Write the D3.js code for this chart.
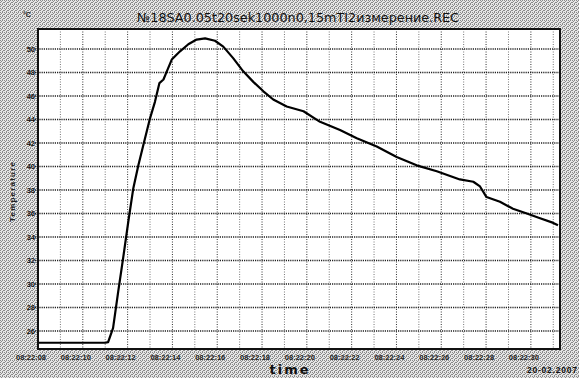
<!DOCTYPE html>
<html>
<head>
<meta charset="utf-8">
<script src="https://cdn.jsdelivr.net/npm/d3@7"></script>
<style>
  html, body { margin: 0; padding: 0; background: #fff; }
  svg { display: block; }
</style>
</head>
<body>
<div id="chart"></div>
<script>
// seconds after 08:22:08 and measured temperature (°C)
const secs = [0, 3.0, 3.13, 3.35, 3.58, 3.8, 4.03, 4.25, 4.48, 4.7, 5.0, 5.22, 5.42, 5.6, 5.75, 5.97,
  6.34, 6.71, 7.08, 7.46, 7.9, 8.27, 8.72, 9.16, 9.61, 10.06, 10.5, 11.1, 11.85, 12.59, 13.48,
  14.23, 15.12, 16.01, 16.9, 17.8, 18.83, 19.43, 19.73, 20.02, 20.62, 21.2, 21.82, 22.41, 23.0, 23.21];
const temps = [25.0, 25.0, 25.05, 26.25, 29.35, 32.2, 35.3, 38.1, 40.1, 41.8, 44.1, 45.5, 47.1, 47.4, 48.1, 49.1,
  49.8, 50.4, 50.8, 50.9, 50.7, 50.2, 49.2, 48.1, 47.2, 46.4, 45.7, 45.1, 44.7, 43.8, 43.1,
  42.4, 41.7, 40.8, 40.1, 39.6, 38.9, 38.7, 38.3, 37.4, 37.0, 36.4, 36.0, 35.6, 35.2, 35.0];

const xTickSecs = [0, 2, 4, 6, 8, 10, 12, 14, 16, 18, 20, 22];
const xTickLabels = ['08:22:08', '08:22:10', '08:22:12', '08:22:14', '08:22:16', '08:22:18',
  '08:22:20', '08:22:22', '08:22:24', '08:22:26', '08:22:28', '08:22:30'];
const yTicks = [26, 28, 30, 32, 34, 36, 38, 40, 42, 44, 46, 48, 50];

const title = '№18SA0.05t20sek1000n0,15mTI2измерение.REC';

const W = 579, H = 378;
const margin = { top: 29, right: 19, bottom: 29, left: 38 };

const svg = d3.select('#chart').append('svg')
  .attr('width', W)
  .attr('height', H);

// dithered grey backdrop like the scanned original
const defs = svg.append('defs');
const pat = defs.append('pattern')
  .attr('id', 'dither')
  .attr('width', 4).attr('height', 4)
  .attr('patternUnits', 'userSpaceOnUse');
pat.append('rect').attr('width', 4).attr('height', 4).attr('fill', '#e6e6e6');
[[0, 0], [2, 0], [1, 1], [3, 2], [0, 2], [2, 3]].forEach(p => {
  pat.append('rect').attr('x', p[0]).attr('y', p[1]).attr('width', 1).attr('height', 1).attr('fill', '#8a8a8a');
});

svg.append('rect').attr('width', W).attr('height', H).attr('fill', 'url(#dither)');

const x = d3.scaleLinear()
  .domain([0, 23.3])
  .range([margin.left, W - margin.right]);

const y = d3.scaleLinear()
  .domain([24.47, 51.7])
  .range([H - margin.bottom, margin.top]);

// plot area
svg.append('rect')
  .attr('x', x(0))
  .attr('y', y(51.7))
  .attr('width', x(23.3) - x(0))
  .attr('height', y(24.47) - y(51.7))
  .attr('fill', '#fff');

// vertical grid, one per second
svg.append('g')
  .selectAll('line')
  .data(d3.range(1, 24))
  .enter().append('line')
  .attr('x1', d => x(d)).attr('x2', d => x(d))
  .attr('y1', y(51.7)).attr('y2', y(24.47))
  .attr('stroke', d => d % 2 === 0 ? '#333' : '#777')
  .attr('stroke-width', 1)
  .attr('stroke-dasharray', '1,1.5');

// horizontal grid
svg.append('g')
  .selectAll('line')
  .data(yTicks)
  .enter().append('line')
  .attr('x1', x(0) - 3).attr('x2', x(23.3))
  .attr('y1', d => y(d)).attr('y2', d => y(d))
  .attr('stroke', '#222')
  .attr('stroke-width', 1.3)
  .attr('stroke-dasharray', '1.2,1');

// y tick labels
svg.append('g')
  .selectAll('text')
  .data(yTicks)
  .enter().append('text')
  .attr('x', x(0) - 3)
  .attr('y', d => y(d))
  .attr('dy', '0.35em')
  .attr('text-anchor', 'end')
  .attr('font-family', 'Liberation Sans, Arial, sans-serif')
  .attr('font-size', '7.5px')
  .attr('font-weight', 'bold')
  .attr('fill', '#111')
  .text(d => d);

// x tick labels
svg.append('g')
  .selectAll('text')
  .data(xTickSecs)
  .enter().append('text')
  .attr('x', d => x(d) - 7)
  .attr('y', 360)
  .attr('text-anchor', 'middle')
  .attr('font-family', 'Liberation Sans, Arial, sans-serif')
  .attr('font-size', '7.5px')
  .attr('font-weight', 'bold')
  .attr('fill', '#222')
  .text((d, i) => xTickLabels[i]);

// data line
const line = d3.line()
  .x((d, i) => x(secs[i]))
  .y(d => y(d));

svg.append('path')
  .datum(temps)
  .attr('d', line)
  .attr('fill', 'none')
  .attr('stroke', '#000')
  .attr('stroke-width', 2.2)
  .attr('stroke-linejoin', 'round');

// frame
svg.append('rect')
  .attr('x', x(0))
  .attr('y', y(51.7))
  .attr('width', x(23.3) - x(0))
  .attr('height', y(24.47) - y(51.7))
  .attr('fill', 'none')
  .attr('stroke', '#111')
  .attr('stroke-width', 2);

// texts
svg.append('text')
  .attr('x', 298).attr('y', 22)
  .attr('text-anchor', 'middle')
  .attr('font-family', 'DejaVu Sans, sans-serif')
  .attr('font-size', '12.5px')
  .attr('textLength', 322)
  .attr('lengthAdjust', 'spacingAndGlyphs')
  .attr('fill', '#111')
  .text(title);

svg.append('text')
  .attr('x', 27).attr('y', 17)
  .attr('text-anchor', 'middle')
  .attr('font-family', 'Liberation Sans, Arial, sans-serif')
  .attr('font-size', '7px')
  .attr('font-weight', 'bold')
  .attr('fill', '#222')
  .text('°C');

svg.append('text')
  .attr('transform', 'translate(15,192) rotate(-90)')
  .attr('text-anchor', 'middle')
  .attr('font-family', 'Liberation Sans, Arial, sans-serif')
  .attr('font-size', '8px')
  .attr('font-weight', 'bold')
  .attr('textLength', 60)
  .attr('fill', '#222')
  .text('Temperature');

svg.append('text')
  .attr('x', 290).attr('y', 374)
  .attr('text-anchor', 'middle')
  .attr('font-family', 'DejaVu Sans, sans-serif')
  .attr('font-size', '13px')
  .attr('font-weight', 'bold')
  .attr('letter-spacing', '2px')
  .attr('fill', '#111')
  .text('time');

svg.append('text')
  .attr('x', 577).attr('y', 373)
  .attr('text-anchor', 'end')
  .attr('font-family', 'Liberation Sans, Arial, sans-serif')
  .attr('font-size', '8.5px')
  .attr('font-weight', 'bold')
  .attr('textLength', 50)
  .attr('fill', '#111')
  .text('20-02.2007');
</script>
</body>
</html>
